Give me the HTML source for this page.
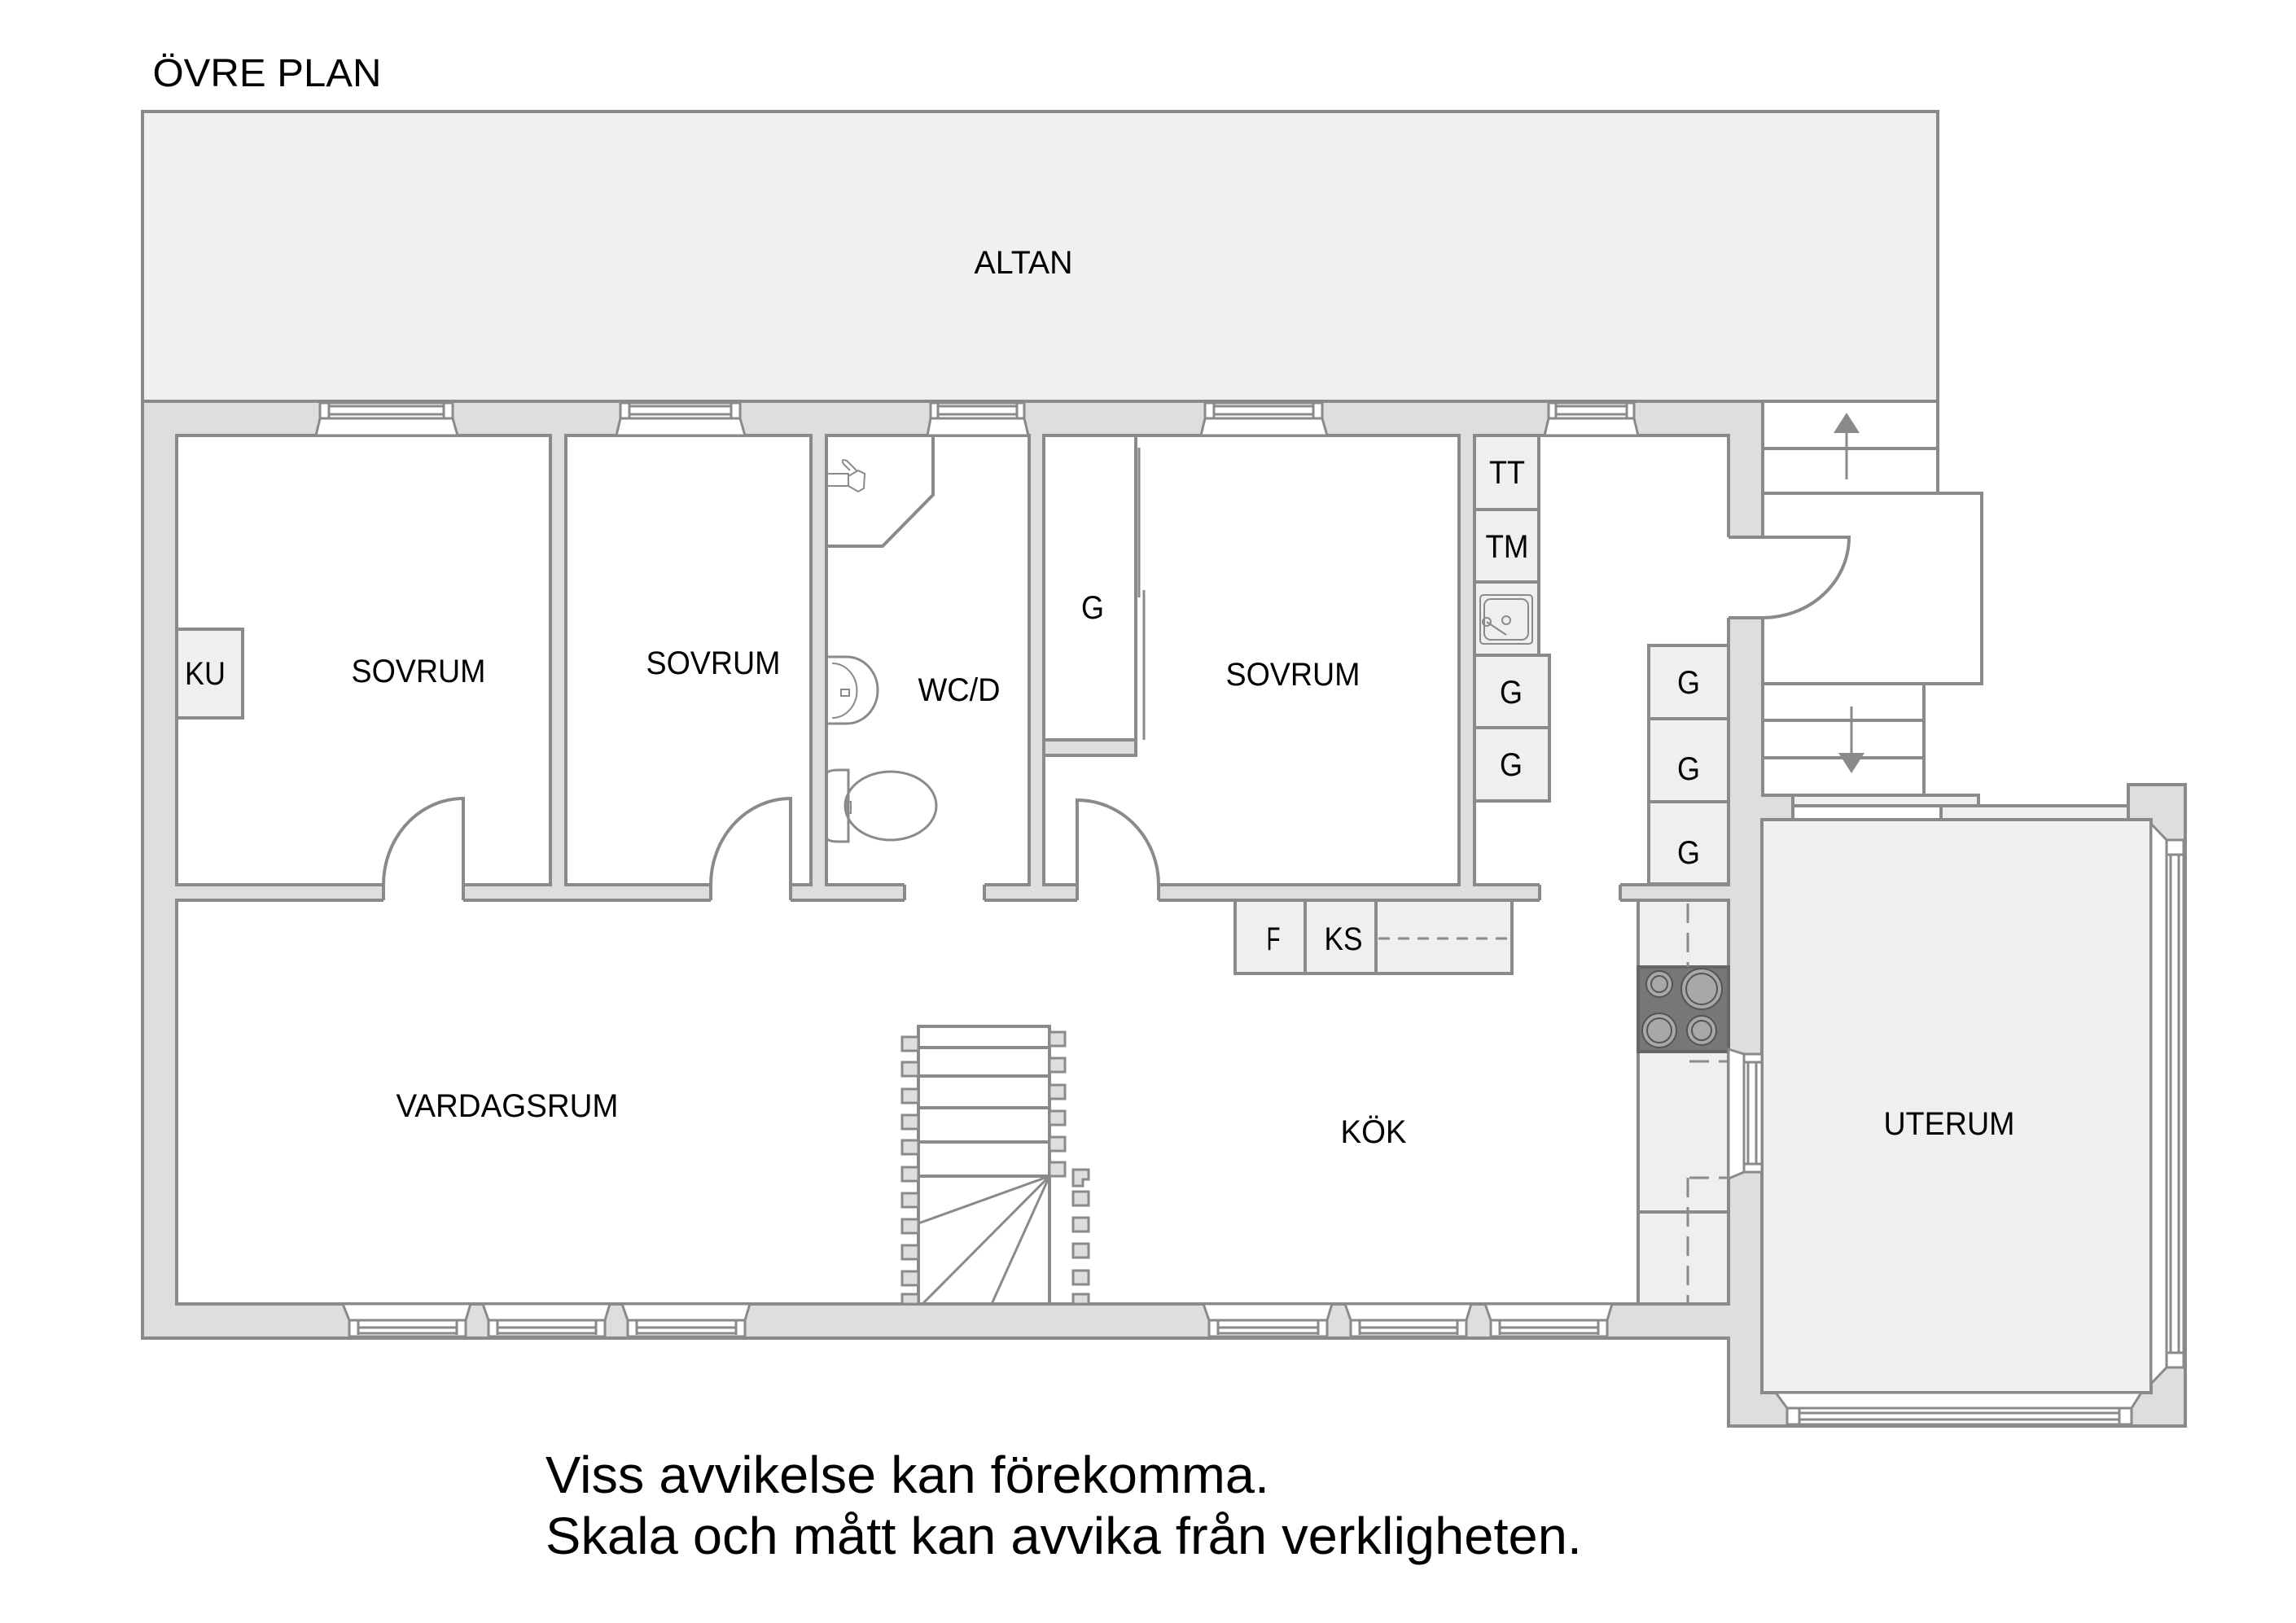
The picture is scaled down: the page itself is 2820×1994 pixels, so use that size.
<!DOCTYPE html>
<html><head><meta charset="utf-8"><style>html,body{margin:0;padding:0;background:#fff}svg{display:block}</style></head>
<body>
<svg xmlns="http://www.w3.org/2000/svg" width="2820" height="1994" viewBox="0 0 2820 1994">
<rect width="2820" height="1994" fill="#fff"/>
<g stroke="#8a8a8a" stroke-width="4" stroke-linejoin="miter">
<rect x="175" y="137" width="2205" height="356" fill="#f0f0f0"/>
<polygon points="175,493 2165,493 2165,964 2202,964 2202,1007 2614,1007 2614,964 2684,964 2684,1752 2123,1752 2123,1644 175,1644" fill="#dedede"/>
<rect x="2165" y="493" width="215" height="113" fill="#fff"/>
<line x1="2165" y1="551" x2="2380" y2="551"/>
<rect x="2165" y="606" width="269" height="234" fill="#fff"/>
<rect x="2165" y="840" width="198" height="137" fill="#fff"/>
<line x1="2165" y1="885" x2="2363" y2="885"/>
<line x1="2165" y1="931" x2="2363" y2="931"/>
<rect x="2202" y="977" width="228" height="13" fill="#efefef"/>
<rect x="2384" y="990" width="230" height="17" fill="#efefef"/>
<rect x="2164" y="1007" width="478" height="704" fill="#efefef"/>
<rect x="217" y="535" width="459" height="552" fill="#fff"/>
<rect x="695" y="535" width="301" height="552" fill="#fff"/>
<rect x="1015" y="535" width="249" height="552" fill="#fff"/>
<rect x="1282" y="535" width="510" height="552" fill="#fff"/>
<rect x="1811" y="535" width="312" height="552" fill="#fff"/>
<rect x="217" y="1106" width="1906" height="496" fill="#fff"/>
</g>
<g fill="#fff">
<rect x="471" y="1084" width="98" height="25"/>
<rect x="873" y="1084" width="98" height="25"/>
<rect x="1111" y="1084" width="98" height="25"/>
<rect x="1323" y="1084" width="100" height="25"/>
<rect x="1891" y="1084" width="99" height="25"/>
<rect x="2120" y="660" width="48" height="99"/>
</g>
<g stroke="#8a8a8a" stroke-width="4" fill="none">
<path d="M471,1087V1106M569,1087V1106M873,1087V1106M971,1087V1106M1111,1087V1106M1209,1087V1106M1323,1087V1106M1423,1087V1106M1891,1087V1106M1990,1087V1106"/>
<path d="M2123,660H2165M2123,759H2165"/>
<path d="M569,1087V981A98,106 0 0 0 471,1087"/>
<path d="M971,1087V981A98,106 0 0 0 873,1087"/>
<path d="M1323,1087V983A100,104 0 0 1 1423,1087"/>
<path d="M2165,660H2271A106,99 0 0 1 2165,759"/>
<rect x="1282" y="535" width="113" height="374" fill="#fff"/>
<rect x="1282" y="909" width="113" height="19" fill="#dedede"/>
<path d="M1399,550V734M1405,725V909" stroke-width="3"/>
<path d="M1146,535V608L1084,671H1015"/>
<rect x="217" y="773" width="81" height="109" fill="#efefef"/>
<rect x="1811" y="535" width="79" height="91" fill="#efefef"/>
<rect x="1811" y="626" width="79" height="89" fill="#efefef"/>
<rect x="1811" y="715" width="79" height="90" fill="#efefef"/>
<rect x="1811" y="805" width="92" height="89" fill="#efefef"/>
<rect x="1811" y="894" width="92" height="90" fill="#efefef"/>
<rect x="2025" y="793" width="98" height="90" fill="#efefef"/>
<rect x="2025" y="883" width="98" height="102" fill="#efefef"/>
<rect x="2025" y="985" width="98" height="101" fill="#efefef"/>
<rect x="1517" y="1106" width="340" height="90" fill="#efefef"/>
<path d="M1603,1106V1196M1690,1106V1196"/>
<path d="M1693,1153H1857" stroke-dasharray="14,10" stroke-width="3"/>
<rect x="2012" y="1106" width="111" height="496" fill="#efefef"/>
<line x1="2012" y1="1489" x2="2123" y2="1489"/>
<rect x="2012" y="1188" width="111" height="104" fill="#777" stroke="#666"/>
<path d="M2073,1110V1188M2073,1447V1600M2075,1304H2123M2075,1447H2123" stroke-dasharray="24,12" stroke-width="3"/>
<rect x="1128" y="1261" width="161" height="341" fill="#fff"/>
<path d="M1128,1287H1289M1128,1322H1289M1128,1361H1289M1128,1403H1289M1128,1445H1289"/>
<path d="M1289,1445L1128,1503M1289,1445L1133,1602M1289,1445L1218,1602" stroke-width="3"/>
</g>
<g stroke="#555" stroke-width="2" fill="#a8a8a8">
<circle cx="2038" cy="1209" r="16"/><circle cx="2038" cy="1209" r="10"/>
<circle cx="2090" cy="1215" r="25"/><circle cx="2090" cy="1215" r="19"/>
<circle cx="2038" cy="1266" r="21"/><circle cx="2038" cy="1266" r="15"/>
<circle cx="2090" cy="1266" r="18"/><circle cx="2090" cy="1266" r="12"/>
</g>
<g fill="#dedede" stroke="#8a8a8a" stroke-width="3">
<rect x="1108" y="1274" width="20" height="17"/><rect x="1108" y="1305" width="20" height="17"/><rect x="1108" y="1338" width="20" height="17"/><rect x="1108" y="1370" width="20" height="17"/><rect x="1108" y="1401" width="20" height="17"/><rect x="1108" y="1434" width="20" height="17"/><rect x="1108" y="1466" width="20" height="17"/><rect x="1108" y="1498" width="20" height="17"/><rect x="1108" y="1530" width="20" height="17"/><rect x="1108" y="1562" width="20" height="17"/><rect x="1108" y="1590" width="20" height="12"/>
<rect x="1289" y="1268" width="19" height="17"/><rect x="1289" y="1300" width="19" height="17"/><rect x="1289" y="1333" width="19" height="17"/><rect x="1289" y="1365" width="19" height="17"/><rect x="1289" y="1397" width="19" height="17"/><rect x="1289" y="1428" width="19" height="17"/>
<path d="M1318,1437H1337V1449H1330V1457H1318Z"/>
<rect x="1318" y="1464" width="19" height="17"/><rect x="1318" y="1496" width="19" height="17"/><rect x="1318" y="1528" width="19" height="17"/><rect x="1318" y="1561" width="19" height="17"/><rect x="1318" y="1590" width="19" height="12"/>
</g>
<g stroke="#8a8a8a" stroke-width="3" fill="#fff">
<polygon points="393,514 556,514 562,535 388,535"/><rect x="393" y="495" width="163" height="19"/><path d="M404,499H545V509H404ZM404,495V514M545,495V514" fill="none"/>
<polygon points="762,514 909,514 915,535 757,535"/><rect x="762" y="495" width="147" height="19"/><path d="M773,499H898V509H773ZM773,495V514M898,495V514" fill="none"/>
<polygon points="1143,514 1258,514 1263,535 1139,535"/><rect x="1143" y="495" width="115" height="19"/><path d="M1152,499H1249V509H1152ZM1152,495V514M1249,495V514" fill="none"/>
<polygon points="1480,514 1624,514 1630,535 1475,535"/><rect x="1480" y="495" width="144" height="19"/><path d="M1491,499H1613V509H1491ZM1491,495V514M1613,495V514" fill="none"/>
<polygon points="1902,514 2007,514 2012,535 1897,535"/><rect x="1902" y="495" width="105" height="19"/><path d="M1911,499H1998V509H1911ZM1911,495V514M1998,495V514" fill="none"/>
<polygon points="421,1602 578,1602 572,1622 429,1622"/><rect x="429" y="1622" width="143" height="20"/><path d="M440,1631H561V1638H440ZM440,1622V1640M561,1622V1640" fill="none"/>
<polygon points="593,1602 749,1602 743,1622 600,1622"/><rect x="600" y="1622" width="143" height="20"/><path d="M611,1631H732V1638H611ZM611,1622V1640M732,1622V1640" fill="none"/>
<polygon points="764,1602 921,1602 915,1622 771,1622"/><rect x="771" y="1622" width="144" height="20"/><path d="M782,1631H904V1638H782ZM782,1622V1640M904,1622V1640" fill="none"/>
<polygon points="1478,1602 1636,1602 1630,1622 1485,1622"/><rect x="1485" y="1622" width="145" height="20"/><path d="M1496,1631H1619V1638H1496ZM1496,1622V1640M1619,1622V1640" fill="none"/>
<polygon points="1652,1602 1807,1602 1801,1622 1659,1622"/><rect x="1659" y="1622" width="142" height="20"/><path d="M1670,1631H1790V1638H1670ZM1670,1622V1640M1790,1622V1640" fill="none"/>
<polygon points="1824,1602 1980,1602 1974,1622 1831,1622"/><rect x="1831" y="1622" width="143" height="20"/><path d="M1842,1631H1963V1638H1842ZM1842,1622V1640M1963,1622V1640" fill="none"/>
<polygon points="2123,1289 2142,1295 2142,1440 2123,1448"/><rect x="2142" y="1295" width="22" height="145"/><path d="M2147,1305V1430H2157V1305ZM2142,1305H2164M2142,1430H2164" fill="none"/>
<polygon points="2642,1012 2661,1032 2661,1680 2642,1700"/><rect x="2661" y="1032" width="21" height="648"/><path d="M2666,1050V1662H2676V1050ZM2661,1050H2682M2661,1662H2682" fill="none"/>
<polygon points="2181,1711 2630,1711 2618,1730 2195,1730"/><rect x="2195" y="1730" width="423" height="20"/><path d="M2210,1736H2603V1744H2210ZM2210,1730V1750M2603,1730V1750" fill="none"/>
</g>
<g stroke="#8a8a8a" stroke-width="3" fill="#8a8a8a">
<line x1="2268" y1="589" x2="2268" y2="530"/><polygon points="2252,532 2284,532 2268,507" stroke="none"/>
<line x1="2274" y1="868" x2="2274" y2="928"/><polygon points="2258,925 2290,925 2274,950" stroke="none"/>
</g>
<g stroke="#8a8a8a" fill="none" stroke-width="2">
<rect x="1818" y="731" width="64" height="60" rx="4"/><rect x="1823" y="736" width="54" height="50" rx="8"/>
<circle cx="1826" cy="764" r="5"/><circle cx="1850" cy="762" r="5"/><line x1="1826" y1="764" x2="1850" y2="780"/>
<path d="M1015,807H1040A38,41 0 0 1 1040,889H1015" stroke-width="3"/>
<path d="M1022,815A30,33 0 0 1 1022,882" />
<rect x="1033" y="847" width="10" height="8"/>
<path d="M1015,952Q1015,946 1030,946H1042V1034H1030Q1015,1034 1015,1028Z" stroke-width="3"/>
<ellipse cx="1094" cy="990" rx="56" ry="42" stroke-width="3"/>
<rect x="1040" y="985" width="5" height="14"/>
<path d="M1015,582H1042V597H1015" />
<path d="M1042,585L1054,578L1062,582L1061,600L1054,604L1042,597Z"/>
<path d="M1044,578L1036,570Q1032,563 1040,566L1052,578"/>
</g>
<g font-family="'Liberation Sans', Arial, sans-serif" fill="#000" text-anchor="middle">
<text x="328" y="106" font-size="48" textLength="281" lengthAdjust="spacingAndGlyphs">ÖVRE PLAN</text>
<text x="1257" y="336" font-size="40" textLength="121" lengthAdjust="spacingAndGlyphs">ALTAN</text>
<text x="252" y="841" font-size="40" textLength="50" lengthAdjust="spacingAndGlyphs">KU</text>
<text x="514" y="838" font-size="40" textLength="165" lengthAdjust="spacingAndGlyphs">SOVRUM</text>
<text x="876" y="828" font-size="40" textLength="165" lengthAdjust="spacingAndGlyphs">SOVRUM</text>
<text x="1178" y="861" font-size="40" textLength="101" lengthAdjust="spacingAndGlyphs">WC/D</text>
<text x="1342" y="760" font-size="40" textLength="28" lengthAdjust="spacingAndGlyphs">G</text>
<text x="1588" y="842" font-size="40" textLength="165" lengthAdjust="spacingAndGlyphs">SOVRUM</text>
<text x="1851" y="594" font-size="40" textLength="44" lengthAdjust="spacingAndGlyphs">TT</text>
<text x="1851" y="685" font-size="40" textLength="53" lengthAdjust="spacingAndGlyphs">TM</text>
<text x="1856" y="864" font-size="40" textLength="28" lengthAdjust="spacingAndGlyphs">G</text>
<text x="1856" y="953" font-size="40" textLength="28" lengthAdjust="spacingAndGlyphs">G</text>
<text x="2074" y="852" font-size="40" textLength="28" lengthAdjust="spacingAndGlyphs">G</text>
<text x="2074" y="958" font-size="40" textLength="28" lengthAdjust="spacingAndGlyphs">G</text>
<text x="2074" y="1061" font-size="40" textLength="28" lengthAdjust="spacingAndGlyphs">G</text>
<text x="1564" y="1167" font-size="40" textLength="17" lengthAdjust="spacingAndGlyphs">F</text>
<text x="1650" y="1167" font-size="40" textLength="47" lengthAdjust="spacingAndGlyphs">KS</text>
<text x="623" y="1372" font-size="40" textLength="273" lengthAdjust="spacingAndGlyphs">VARDAGSRUM</text>
<text x="1687" y="1404" font-size="40" textLength="81" lengthAdjust="spacingAndGlyphs">KÖK</text>
<text x="2394" y="1394" font-size="40" textLength="161" lengthAdjust="spacingAndGlyphs">UTERUM</text>
</g>
<g font-family="'Liberation Sans', Arial, sans-serif" fill="#000" font-size="64">
<text x="670" y="1834" textLength="889" lengthAdjust="spacingAndGlyphs">Viss avvikelse kan förekomma.</text>
<text x="670" y="1909" textLength="1273" lengthAdjust="spacingAndGlyphs">Skala och mått kan avvika från verkligheten.</text>
</g>
</svg>
</body></html>
